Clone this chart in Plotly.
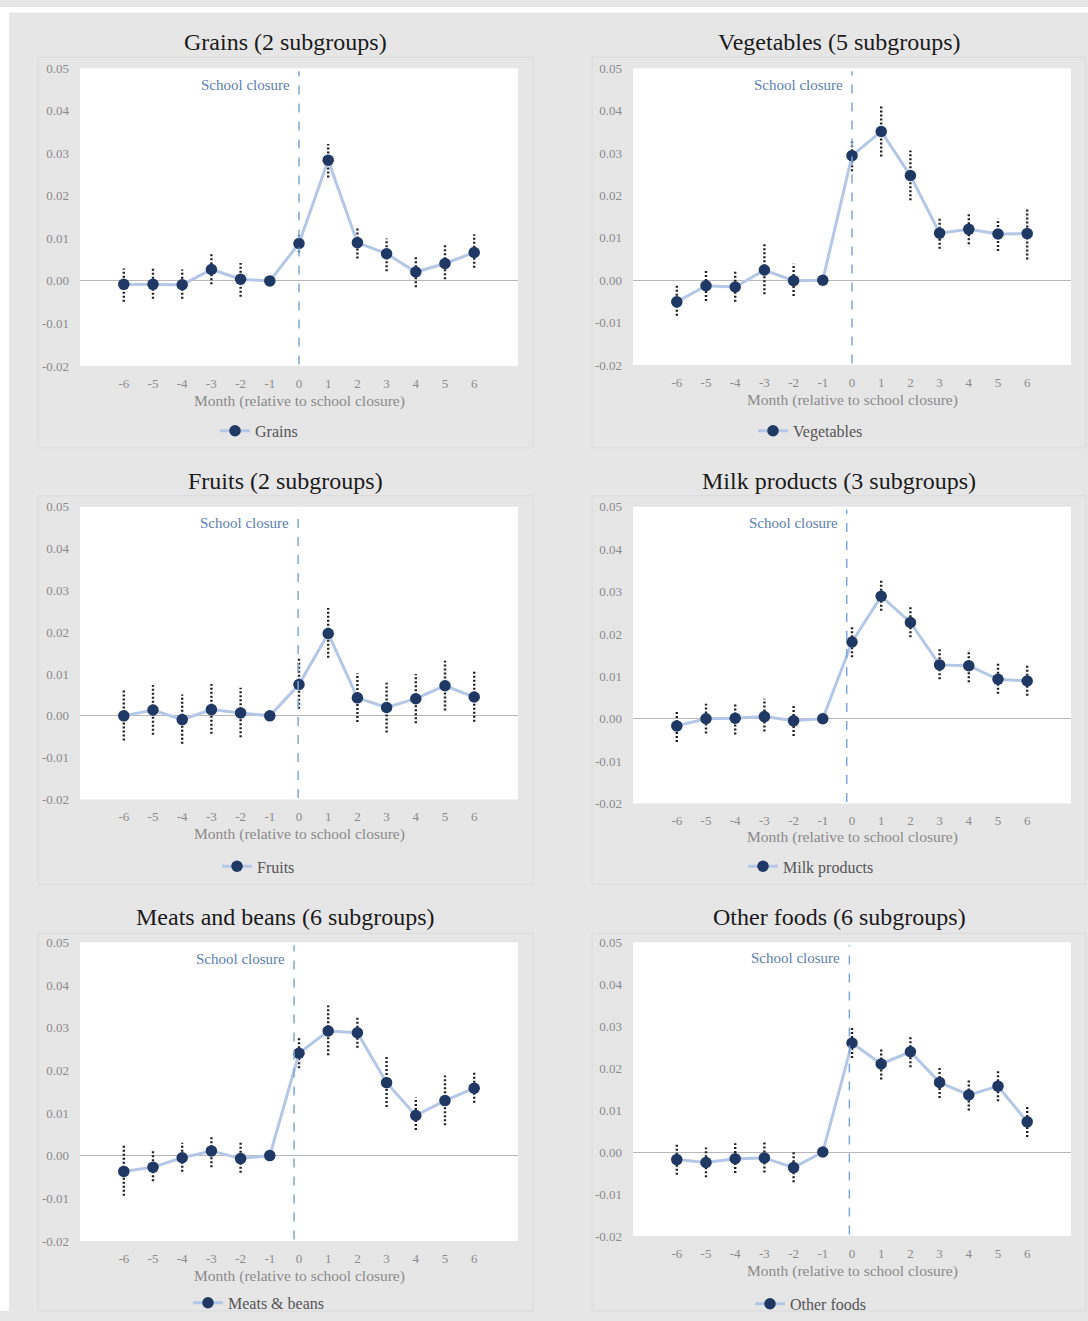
import plotly.graph_objects as go

W, H = 1088, 1321

months = [-6, -5, -4, -3, -2, -1, 0, 1, 2, 3, 4, 5, 6]
x_tick_labels = ["-6", "-5", "-4", "-3", "-2", "-1", "0", "1", "2", "3", "4", "5", "6"]
y_tick_vals = [-0.02, -0.01, 0.0, 0.01, 0.02, 0.03, 0.04, 0.05]
y_tick_labels = ["-0.02", "-0.01", "0.00", "0.01", "0.02", "0.03", "0.04", "0.05"]

titles = ["Grains (2 subgroups)", "Vegetables (5 subgroups)", "Fruits (2 subgroups)",
          "Milk products (3 subgroups)", "Meats and beans (6 subgroups)", "Other foods (6 subgroups)"]
series_names = ["Grains", "Vegetables", "Fruits", "Milk products", "Meats & beans", "Other foods"]

grains = [-0.0008, -0.0008, -0.0009, 0.0027, 0.0004, 0.0, 0.0088, 0.0284, 0.0090, 0.0064, 0.0021, 0.0041, 0.0067]
grains_lo = [-0.0049, -0.0042, -0.0042, -0.0008, -0.0037, None, 0.0067, 0.0243, 0.0053, 0.0023, -0.0015, 0.0004, 0.0031]
grains_hi = [0.0029, 0.0029, 0.0027, 0.0063, 0.0042, None, 0.0108, 0.0322, 0.0126, 0.0100, 0.0057, 0.0084, 0.0110]

vegetables = [-0.0051, -0.0013, -0.0016, 0.0024, -0.0001, 0.0, 0.0294, 0.0351, 0.0247, 0.0111, 0.0120, 0.0109, 0.0110]
vegetables_lo = [-0.0084, -0.0049, -0.0051, -0.0033, -0.0037, None, 0.0257, 0.0292, 0.0189, 0.0074, 0.0085, 0.0069, 0.0049]
vegetables_hi = [-0.0013, 0.0024, 0.0020, 0.0085, 0.0039, None, 0.0332, 0.0412, 0.0306, 0.0146, 0.0157, 0.0145, 0.0169]

fruits = [0.0000, 0.0014, -0.0009, 0.0015, 0.0007, 0.0, 0.0075, 0.0197, 0.0043, 0.0020, 0.0041, 0.0072, 0.0045]
fruits_lo = [-0.0059, -0.0045, -0.0067, -0.0043, -0.0051, None, 0.0017, 0.0139, -0.0015, -0.0040, -0.0018, 0.0013, -0.0014]
fruits_hi = [0.0061, 0.0074, 0.0051, 0.0076, 0.0067, None, 0.0138, 0.0258, 0.0102, 0.0079, 0.0100, 0.0132, 0.0106]

milk = [-0.0017, 0.0000, 0.0001, 0.0005, -0.0005, 0.0, 0.0181, 0.0289, 0.0227, 0.0127, 0.0125, 0.0093, 0.0089]
milk_lo = [-0.0055, -0.0035, -0.0037, -0.0030, -0.0041, None, 0.0145, 0.0255, 0.0192, 0.0093, 0.0086, 0.0059, 0.0054]
milk_hi = [0.0020, 0.0035, 0.0037, 0.0047, 0.0031, None, 0.0217, 0.0330, 0.0268, 0.0164, 0.0162, 0.0130, 0.0126]

meats = [-0.0037, -0.0027, -0.0005, 0.0011, -0.0007, 0.0, 0.0240, 0.0292, 0.0288, 0.0171, 0.0094, 0.0129, 0.0158]
meats_lo = [-0.0094, -0.0060, -0.0038, -0.0027, -0.0040, None, 0.0205, 0.0235, 0.0253, 0.0114, 0.0060, 0.0071, 0.0124]
meats_hi = [0.0023, 0.0015, 0.0030, 0.0048, 0.0030, None, 0.0280, 0.0352, 0.0323, 0.0231, 0.0136, 0.0188, 0.0194]

other = [-0.0018, -0.0025, -0.0016, -0.0014, -0.0037, 0.0, 0.0260, 0.0210, 0.0239, 0.0166, 0.0136, 0.0157, 0.0072]
other_lo = [-0.0054, -0.0060, -0.0050, -0.0049, -0.0072, None, 0.0224, 0.0173, 0.0202, 0.0129, 0.0099, 0.0121, 0.0036]
other_hi = [0.0019, 0.0011, 0.0021, 0.0023, 0.0000, None, 0.0298, 0.0247, 0.0276, 0.0203, 0.0173, 0.0194, 0.0109]

values = [grains, vegetables, fruits, milk, meats, other]
lows = [grains_lo, vegetables_lo, fruits_lo, milk_lo, meats_lo, other_lo]
highs = [grains_hi, vegetables_hi, fruits_hi, milk_hi, meats_hi, other_hi]
closure_month = [0, 0, -0.03, -0.18, -0.17, -0.09]

# layout geometry (target screen pixels)
plot_boxes = [(80, 518, 69, 367), (633, 1071, 69, 366),
              (80, 518, 508, 801), (633, 1071, 508, 805),
              (80, 518, 944, 1243), (633, 1071, 944, 1238)]
title_y = [43, 43, 482, 482, 919, 919]
title_x = [285, 839, 285, 839, 285, 839]
axis_title_y = [402, 401, 836, 839, 1278, 1273]
legend_y = [432, 432, 868, 868, 1305, 1306]
legend_text_x = [255, 793, 257, 783, 228, 790]

# the page is shown with a small vertical offset/compression; map screen y -> figure y
Y_OFF = 7.6
Y_SCALE = 0.9883

SERIF = "Liberation Serif"
TICK_GRAY = "#8a8a8a"
LINE_BLUE = "#b4c7e7"
MARKER_NAVY = "#1f3864"
CLOSURE_BLUE = "#7fa9d6"
TEXT_BLUE = "#5b80b2"

fig = go.Figure()
annotations = []
shapes = []
layout_axes = {}


def px_x(p):
    return p / W


def px_y(p):
    f = (p - Y_OFF) / Y_SCALE
    return min(1.0, max(0.0, 1 - f / H))


for i in range(6):
    n = i + 1
    xa = "x" if n == 1 else f"x{n}"
    ya = "y" if n == 1 else f"y{n}"
    x0, x1, y0, y1 = plot_boxes[i]

    ex, ey = [], []
    for m, lo, hi in zip(months, lows[i], highs[i]):
        if lo is None or hi is None:
            continue
        ex += [m, m, None]
        ey += [lo, hi, None]
    fig.add_trace(go.Scatter(x=ex, y=ey, mode="lines", xaxis=xa, yaxis=ya,
                             line=dict(color="#222222", width=2.4, dash="2px,2px"),
                             showlegend=False, hoverinfo="skip"))
    legend_id = "legend" if n == 1 else f"legend{n}"
    fig.add_trace(go.Scatter(x=months, y=values[i], mode="lines+markers", xaxis=xa, yaxis=ya,
                             name=series_names[i], legend=legend_id,
                             line=dict(color=LINE_BLUE, width=3),
                             marker=dict(color=MARKER_NAVY, size=11.5)))

    key_x = "xaxis" if n == 1 else f"xaxis{n}"
    key_y = "yaxis" if n == 1 else f"yaxis{n}"
    layout_axes[key_x] = dict(domain=[px_x(x0), px_x(x1)], range=[-7.5, 7.5], anchor=ya,
                              tickvals=months, ticktext=x_tick_labels, showgrid=False,
                              zeroline=False, showline=False, ticks="",
                              ticklabelstandoff=8,
                              tickfont=dict(family=SERIF, size=13, color=TICK_GRAY))
    layout_axes[key_y] = dict(domain=[px_y(y1), px_y(y0)], range=[-0.02, 0.05], anchor=xa,
                              tickvals=y_tick_vals, ticktext=y_tick_labels, showgrid=False,
                              zeroline=True, zerolinecolor="#b8b8b8", zerolinewidth=1,
                              showline=False, ticks="", ticklabelstandoff=10,
                              tickfont=dict(family=SERIF, size=13, color=TICK_GRAY))

    shapes.append(dict(type="line", xref=xa, yref=f"{ya} domain",
                       x0=closure_month[i], x1=closure_month[i], y0=0.005, y1=0.99,
                       line=dict(color=CLOSURE_BLUE, width=1.5, dash="dash"), layer="above"))
    annotations.append(dict(text="School closure", xref=xa, yref=f"{ya} domain",
                            x=closure_month[i], y=0.945, xanchor="right", yanchor="middle",
                            xshift=-7, showarrow=False,
                            font=dict(family=SERIF, size=15, color=TEXT_BLUE)))
    annotations.append(dict(text=titles[i], xref="paper", yref="paper",
                            x=px_x(title_x[i]), y=px_y(title_y[i]), xanchor="center",
                            yanchor="middle", showarrow=False,
                            font=dict(family=SERIF, size=24, color="#1a1a1a")))
    annotations.append(dict(text="Month (relative to school closure)", xref=f"{xa} domain",
                            yref="paper", x=0.5, y=px_y(axis_title_y[i]), xanchor="center",
                            yanchor="middle", showarrow=False,
                            font=dict(family=SERIF, size=15.5, color=TICK_GRAY)))
    layout_axes[legend_id] = dict(x=px_x(legend_text_x[i] - 40), y=px_y(legend_y[i]),
                                  xanchor="left", yanchor="middle", orientation="h",
                                  bgcolor="rgba(0,0,0,0)",
                                  font=dict(family=SERIF, size=16, color="#555555"))

# white margin strips (top and left) and faint panel borders
shapes.insert(0, dict(type="rect", xref="paper", yref="paper", x0=0, x1=1, y0=px_y(13), y1=1,
                      fillcolor="white", line=dict(width=0), layer="below"))
shapes.insert(0, dict(type="rect", xref="paper", yref="paper", x0=0, x1=px_x(9), y0=0, y1=1,
                      fillcolor="white", line=dict(width=0), layer="below"))
panel_x = [(38, 533), (592, 1086)]
panel_y = [(58, 449), (497, 886), (935, 1340)]
for (py0, py1) in panel_y:
    for (pxa, pxb) in panel_x:
        shapes.append(dict(type="rect", xref="paper", yref="paper",
                           x0=px_x(pxa), x1=px_x(pxb), y0=px_y(py1), y1=px_y(py0),
                           fillcolor="rgba(0,0,0,0)", line=dict(color="#dadada", width=1),
                           layer="below"))

fig.update_layout(
    width=W, height=H,
    margin=dict(l=0, r=0, t=0, b=0),
    paper_bgcolor="#e7e6e7",
    plot_bgcolor="white",
    annotations=annotations,
    shapes=shapes,
    **layout_axes,
)

fig.write_html("out.html")
